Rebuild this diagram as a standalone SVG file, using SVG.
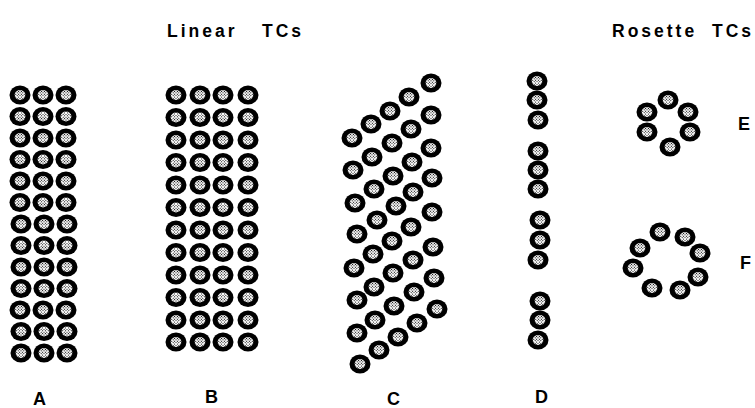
<svg xmlns="http://www.w3.org/2000/svg" width="755" height="408" viewBox="0 0 755 408">
<style>
.lbl{font-family:"Liberation Sans",Arial,sans-serif;font-weight:bold;fill:#000}
.title{font-size:17.5px;letter-spacing:3px}
.big{font-size:18px}
</style>
<defs>
<pattern id="mesh" patternUnits="userSpaceOnUse" width="2" height="2" patternTransform="rotate(45)">
<rect width="2" height="2" fill="#fff"/>
<rect width="1" height="1" fill="#000"/>
</pattern>
<g id="tc">
<ellipse rx="10.5" ry="9.6" fill="#000"/>
<ellipse rx="5.4" ry="4.9" fill="url(#mesh)"/>
</g>
</defs>
<rect width="755" height="408" fill="#fff"/>

<g id="title-linear">
<text class="lbl title" x="167" y="37">Linear</text>
<text class="lbl title" x="262" y="37">TCs</text>
</g>
<g id="title-rosette">
<text class="lbl title" x="612" y="37">Rosette</text>
<text class="lbl title" x="712" y="37">TCs</text>
</g>

<g id="A">
<use href="#tc" x="20" y="95"/><use href="#tc" x="43" y="95"/><use href="#tc" x="66" y="95"/>
<use href="#tc" x="20" y="116.5"/><use href="#tc" x="43" y="116.5"/><use href="#tc" x="66" y="116.5"/>
<use href="#tc" x="20" y="138"/><use href="#tc" x="43" y="138"/><use href="#tc" x="66" y="138"/>
<use href="#tc" x="20" y="159.5"/><use href="#tc" x="43" y="159.5"/><use href="#tc" x="66" y="159.5"/>
<use href="#tc" x="20" y="181"/><use href="#tc" x="43" y="181"/><use href="#tc" x="66" y="181"/>
<use href="#tc" x="20" y="202.5"/><use href="#tc" x="43" y="202.5"/><use href="#tc" x="66" y="202.5"/>
<use href="#tc" x="21" y="224"/><use href="#tc" x="44" y="224"/><use href="#tc" x="67" y="224"/>
<use href="#tc" x="21" y="245.5"/><use href="#tc" x="44" y="245.5"/><use href="#tc" x="67" y="245.5"/>
<use href="#tc" x="21" y="267"/><use href="#tc" x="44" y="267"/><use href="#tc" x="67" y="267"/>
<use href="#tc" x="21" y="288.5"/><use href="#tc" x="44" y="288.5"/><use href="#tc" x="67" y="288.5"/>
<use href="#tc" x="20" y="310"/><use href="#tc" x="43" y="310"/><use href="#tc" x="66" y="310"/>
<use href="#tc" x="21" y="331.5"/><use href="#tc" x="44" y="331.5"/><use href="#tc" x="67" y="331.5"/>
<use href="#tc" x="21" y="353"/><use href="#tc" x="44" y="353"/><use href="#tc" x="67" y="353"/>
<text class="lbl big" x="33" y="405">A</text>
</g>

<g id="B">
<use href="#tc" x="176" y="95"/><use href="#tc" x="200" y="95"/><use href="#tc" x="223" y="95"/><use href="#tc" x="248" y="95"/>
<use href="#tc" x="176" y="117.5"/><use href="#tc" x="200" y="117.5"/><use href="#tc" x="223" y="117.5"/><use href="#tc" x="248" y="117.5"/>
<use href="#tc" x="176" y="140"/><use href="#tc" x="200" y="140"/><use href="#tc" x="223" y="140"/><use href="#tc" x="248" y="140"/>
<use href="#tc" x="176" y="162.5"/><use href="#tc" x="200" y="162.5"/><use href="#tc" x="223" y="162.5"/><use href="#tc" x="248" y="162.5"/>
<use href="#tc" x="176" y="185"/><use href="#tc" x="200" y="185"/><use href="#tc" x="223" y="185"/><use href="#tc" x="248" y="185"/>
<use href="#tc" x="176" y="207.5"/><use href="#tc" x="200" y="207.5"/><use href="#tc" x="223" y="207.5"/><use href="#tc" x="248" y="207.5"/>
<use href="#tc" x="176" y="230"/><use href="#tc" x="200" y="230"/><use href="#tc" x="223" y="230"/><use href="#tc" x="248" y="230"/>
<use href="#tc" x="176" y="252.5"/><use href="#tc" x="200" y="252.5"/><use href="#tc" x="223" y="252.5"/><use href="#tc" x="248" y="252.5"/>
<use href="#tc" x="176" y="275"/><use href="#tc" x="200" y="275"/><use href="#tc" x="223" y="275"/><use href="#tc" x="248" y="275"/>
<use href="#tc" x="176" y="297.5"/><use href="#tc" x="200" y="297.5"/><use href="#tc" x="223" y="297.5"/><use href="#tc" x="248" y="297.5"/>
<use href="#tc" x="176" y="320"/><use href="#tc" x="200" y="320"/><use href="#tc" x="223" y="320"/><use href="#tc" x="248" y="320"/>
<use href="#tc" x="176" y="342"/><use href="#tc" x="200" y="342"/><use href="#tc" x="223" y="342"/><use href="#tc" x="248" y="342"/>
<text class="lbl big" x="205" y="403">B</text>
</g>

<g id="C">
<use href="#tc" x="352" y="138"/><use href="#tc" x="371" y="124"/><use href="#tc" x="390" y="111"/><use href="#tc" x="409" y="97"/><use href="#tc" x="431" y="83"/>
<use href="#tc" x="353" y="170"/><use href="#tc" x="372" y="157"/><use href="#tc" x="392" y="143"/><use href="#tc" x="411" y="129"/><use href="#tc" x="431" y="115"/>
<use href="#tc" x="355" y="203"/><use href="#tc" x="374" y="189"/><use href="#tc" x="393" y="176"/><use href="#tc" x="412" y="162"/><use href="#tc" x="431" y="148"/>
<use href="#tc" x="357" y="234"/><use href="#tc" x="377" y="220"/><use href="#tc" x="396" y="206"/><use href="#tc" x="413" y="192"/><use href="#tc" x="432" y="178"/>
<use href="#tc" x="354" y="268"/><use href="#tc" x="373" y="254"/><use href="#tc" x="392" y="241"/><use href="#tc" x="411" y="227"/><use href="#tc" x="432" y="212"/>
<use href="#tc" x="357" y="300"/><use href="#tc" x="374" y="287"/><use href="#tc" x="393" y="273"/><use href="#tc" x="413" y="260"/><use href="#tc" x="433" y="247"/>
<use href="#tc" x="357" y="333"/><use href="#tc" x="375" y="320"/><use href="#tc" x="394" y="306"/><use href="#tc" x="414" y="292"/><use href="#tc" x="434" y="278"/>
<use href="#tc" x="360" y="364"/><use href="#tc" x="379" y="350"/><use href="#tc" x="398" y="337"/><use href="#tc" x="417" y="323"/><use href="#tc" x="437" y="309"/>
<text class="lbl big" x="387" y="405">C</text>
</g>

<g id="D">
<use href="#tc" x="537" y="81"/><use href="#tc" x="537" y="100"/><use href="#tc" x="538" y="120"/>
<use href="#tc" x="538" y="151"/><use href="#tc" x="538" y="170"/><use href="#tc" x="538" y="189"/>
<use href="#tc" x="540" y="220"/><use href="#tc" x="540" y="240"/><use href="#tc" x="538" y="260"/>
<use href="#tc" x="540" y="301"/><use href="#tc" x="540" y="320"/><use href="#tc" x="538" y="340"/>
<text class="lbl big" x="535" y="403">D</text>
</g>

<g id="E">
<use href="#tc" x="668" y="100"/><use href="#tc" x="647" y="112"/><use href="#tc" x="688" y="112"/>
<use href="#tc" x="647" y="132"/><use href="#tc" x="690" y="132"/><use href="#tc" x="670" y="147"/>
<text class="lbl big" x="738" y="130">E</text>
</g>

<g id="F">
<use href="#tc" x="660" y="232"/><use href="#tc" x="685" y="237"/><use href="#tc" x="700" y="253"/><use href="#tc" x="698" y="277"/>
<use href="#tc" x="680" y="290"/><use href="#tc" x="652" y="288"/><use href="#tc" x="633" y="268"/><use href="#tc" x="640" y="248"/>
<text class="lbl big" x="740" y="269">F</text>
</g>
</svg>
